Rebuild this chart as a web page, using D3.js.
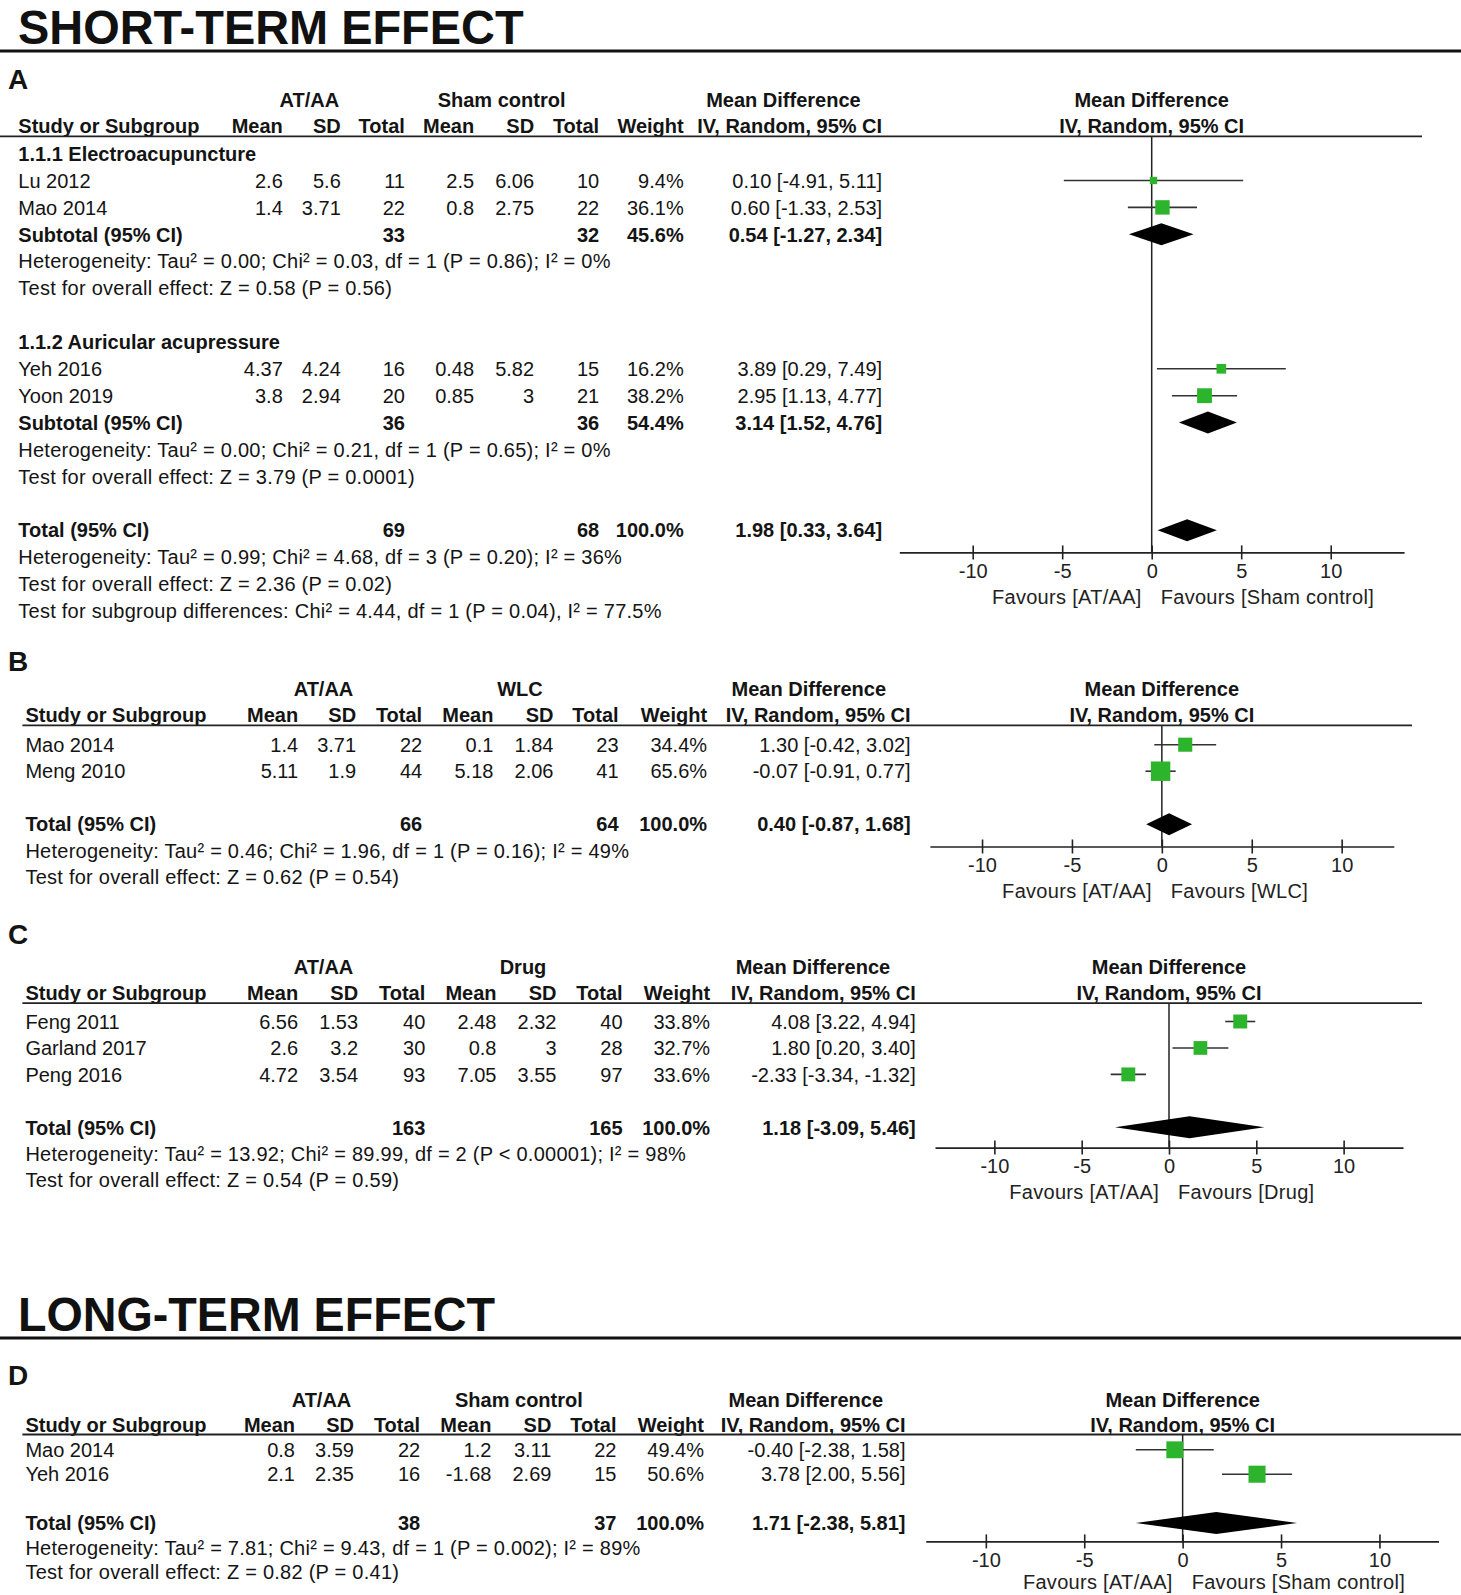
<!DOCTYPE html>
<html><head><meta charset="utf-8">
<script src="https://cdn.jsdelivr.net/npm/d3@7"></script>
<style>
body{margin:0;background:#fff;}
svg text{font-family:"Liberation Sans",Arial,Helvetica,sans-serif;}
</style></head><body>
<svg id="chart" width="1461" height="1595"></svg>
<script>
// ================= DATA =================
const sectionTitles = ["SHORT-TERM EFFECT", "LONG-TERM EFFECT"];
const colHeaders = ["Study or Subgroup","Mean","SD","Total","Mean","SD","Total","Weight","IV, Random, 95% CI"];
const expLabel = "AT/AA";
const tickValues = [-10,-5,0,5,10];

// ---- Panel A (AT/AA vs Sham control, short-term, with subgroups)
const A_groups = ["1.1.1 Electroacupuncture", "1.1.2 Auricular acupressure"];
const A_study = ["Lu 2012","Mao 2014","Yeh 2016","Yoon 2019"];
const A_group = [0,0,1,1];
const A_expMean = [2.6,1.4,4.37,3.8];
const A_expSD = [5.6,3.71,4.24,2.94];
const A_expN = [11,22,16,20];
const A_ctlMean = [2.5,0.8,0.48,0.85];
const A_ctlSD = [6.06,2.75,5.82,3];
const A_ctlN = [10,22,15,21];
const A_weight = [9.4,36.1,16.2,38.2];
const A_md = [0.10,0.60,3.89,2.95];
const A_lo = [-4.91,-1.33,0.29,1.13];
const A_hi = [5.11,2.53,7.49,4.77];
const A_subExpN = [33,36];
const A_subCtlN = [32,36];
const A_subWeight = [45.6,54.4];
const A_subMd = [0.54,3.14];
const A_subLo = [-1.27,1.52];
const A_subHi = [2.34,4.76];
const A_subHet = ["Heterogeneity: Tau\u00b2 = 0.00; Chi\u00b2 = 0.03, df = 1 (P = 0.86); I\u00b2 = 0%",
                  "Heterogeneity: Tau\u00b2 = 0.00; Chi\u00b2 = 0.21, df = 1 (P = 0.65); I\u00b2 = 0%"];
const A_subTest = ["Test for overall effect: Z = 0.58 (P = 0.56)",
                   "Test for overall effect: Z = 3.79 (P = 0.0001)"];
const A_totN = [69,68];
const A_totWeight = 100.0;
const A_totCI = [1.98,0.33,3.64];
const A_totHet = "Heterogeneity: Tau\u00b2 = 0.99; Chi\u00b2 = 4.68, df = 3 (P = 0.20); I\u00b2 = 36%";
const A_totTest = "Test for overall effect: Z = 2.36 (P = 0.02)";
const A_subDiff = "Test for subgroup differences: Chi\u00b2 = 4.44, df = 1 (P = 0.04), I\u00b2 = 77.5%";
const A_control = "Sham control";

// ---- Panel B (AT/AA vs WLC)
const B_study = ["Mao 2014","Meng 2010"];
const B_expMean = [1.4,5.11];
const B_expSD = [3.71,1.9];
const B_expN = [22,44];
const B_ctlMean = [0.1,5.18];
const B_ctlSD = [1.84,2.06];
const B_ctlN = [23,41];
const B_weight = [34.4,65.6];
const B_md = [1.30,-0.07];
const B_lo = [-0.42,-0.91];
const B_hi = [3.02,0.77];
const B_totN = [66,64];
const B_totWeight = 100.0;
const B_totCI = [0.40,-0.87,1.68];
const B_totHet = "Heterogeneity: Tau\u00b2 = 0.46; Chi\u00b2 = 1.96, df = 1 (P = 0.16); I\u00b2 = 49%";
const B_totTest = "Test for overall effect: Z = 0.62 (P = 0.54)";
const B_control = "WLC";

// ---- Panel C (AT/AA vs Drug)
const C_study = ["Feng 2011","Garland 2017","Peng 2016"];
const C_expMean = [6.56,2.6,4.72];
const C_expSD = [1.53,3.2,3.54];
const C_expN = [40,30,93];
const C_ctlMean = [2.48,0.8,7.05];
const C_ctlSD = [2.32,3,3.55];
const C_ctlN = [40,28,97];
const C_weight = [33.8,32.7,33.6];
const C_md = [4.08,1.80,-2.33];
const C_lo = [3.22,0.20,-3.34];
const C_hi = [4.94,3.40,-1.32];
const C_totN = [163,165];
const C_totWeight = 100.0;
const C_totCI = [1.18,-3.09,5.46];
const C_totHet = "Heterogeneity: Tau\u00b2 = 13.92; Chi\u00b2 = 89.99, df = 2 (P < 0.00001); I\u00b2 = 98%";
const C_totTest = "Test for overall effect: Z = 0.54 (P = 0.59)";
const C_control = "Drug";

// ---- Panel D (AT/AA vs Sham control, long-term)
const D_study = ["Mao 2014","Yeh 2016"];
const D_expMean = [0.8,2.1];
const D_expSD = [3.59,2.35];
const D_expN = [22,16];
const D_ctlMean = [1.2,-1.68];
const D_ctlSD = [3.11,2.69];
const D_ctlN = [22,15];
const D_weight = [49.4,50.6];
const D_md = [-0.40,3.78];
const D_lo = [-2.38,2.00];
const D_hi = [1.58,5.56];
const D_totN = [38,37];
const D_totWeight = 100.0;
const D_totCI = [1.71,-2.38,5.81];
const D_totHet = "Heterogeneity: Tau\u00b2 = 7.81; Chi\u00b2 = 9.43, df = 1 (P = 0.002); I\u00b2 = 89%";
const D_totTest = "Test for overall effect: Z = 0.82 (P = 0.41)";
const D_control = "Sham control";

// ================= LAYOUT =================
const LAYOUT = {
  A: {letter:"A", letterY:79.3, hdr1Y:99.7, hdr2Y:126.2, ruleY:136.3, rule:[0,1422], y0:153.6, step:26.9,
      cols:[18.3,282.8,340.8,404.9,474.1,534.1,599.2,683.7,882.1], grp:[309.3,501.6,783.4],
      axisY:552.4, favDy:44, xDomain:[-14.1,14.1], xRange:[899.3,1404.1]},
  B: {letter:"B", letterY:661.3, hdr1Y:688.8, hdr2Y:715.2, ruleY:725.4, rule:[22.4,1412], y0:744.7, step:26.5,
      cols:[25.4,298.1,356.1,422.2,493.4,553.5,618.6,707.1,910.6], grp:[323.5,519.9,808.8],
      axisY:846.5, favDy:44, xDomain:[-12.9,12.9], xRange:[929.9,1393.8]},
  C: {letter:"C", letterY:934, hdr1Y:966.5, hdr2Y:993, ruleY:1003.2, rule:[22.4,1422], y0:1021.5, step:26.45,
      cols:[25.4,298.1,358.1,425.3,496.5,556.5,622.6,710.1,915.7], grp:[323.5,523,812.9],
      axisY:1147.6, favDy:44, xDomain:[-13.4,13.4], xRange:[935,1403]},
  D: {letter:"D", letterY:1374.5, hdr1Y:1400, hdr2Y:1424.4, ruleY:1434.5, rule:[22.4,1461], y0:1449.8, step:24.4,
      cols:[25.4,295,354,420.2,491.4,551.4,616.5,704,905.5], grp:[321.5,518.9,805.8],
      axisY:1541.4, favDy:40.5, xDomain:[-13.05,13.0], xRange:[925.8,1438.5]}
};
const FS = 20;
const GREEN = "#2db42d";
const INK = "#141414";

// ================= BUILD =================
const svg = d3.select("#chart");
svg.append("rect").attr("width",1461).attr("height",1595).attr("fill","#fff");

function txt(g, x, y, s, o = {}) {
  const t = g.append("text").attr("x", x).attr("y", y).attr("dy", "0.36em")
    .attr("text-anchor", o.anchor || "start")
    .attr("font-weight", o.bold ? "bold" : "normal")
    .attr("font-size", o.size || FS).attr("fill", o.fill || INK).text(s);
  if (o.ls) t.attr("letter-spacing", o.ls);
  return t;
}
const f2 = v => v.toFixed(2);
const ci = (m, l, h) => `${f2(m)} [${f2(l)}, ${f2(h)}]`;
const pct = v => v.toFixed(1) + "%";

function studyRows(S, idxs) {
  return idxs.map(i => ({t:"study", name:S.study[i],
    vals:[S.expMean[i],S.expSD[i],S.expN[i],S.ctlMean[i],S.ctlSD[i],S.ctlN[i]].map(String),
    w:S.weight[i], md:S.md[i], lo:S.lo[i], hi:S.hi[i]}));
}

function panelRows(S) {
  const rows = [];
  if (S.groups) {
    S.groups.forEach((gname, gi) => {
      rows.push({t:"group", name:gname});
      rows.push(...studyRows(S, S.study.map((_, i) => i).filter(i => S.group[i] === gi)));
      rows.push({t:"sum", name:"Subtotal (95% CI)", nE:S.subExpN[gi], nC:S.subCtlN[gi], w:S.subWeight[gi],
                 md:S.subMd[gi], lo:S.subLo[gi], hi:S.subHi[gi]});
      rows.push({t:"note", name:S.subHet[gi]});
      rows.push({t:"note", name:S.subTest[gi]});
      rows.push({t:"blank"});
    });
  } else {
    rows.push(...studyRows(S, S.study.map((_, i) => i)));
    rows.push({t:"blank"});
  }
  rows.push({t:"sum", name:"Total (95% CI)", nE:S.totN[0], nC:S.totN[1], w:S.totWeight,
             md:S.totCI[0], lo:S.totCI[1], hi:S.totCI[2]});
  rows.push({t:"note", name:S.totHet});
  rows.push({t:"note", name:S.totTest});
  if (S.subDiff) rows.push({t:"note", name:S.subDiff});
  return rows;
}

function drawPanel(S, L) {
  const g = svg.append("g");
  const x = d3.scaleLinear().domain(L.xDomain).range(L.xRange);
  const rowY = d3.scaleLinear().domain([0, 1]).range([L.y0, L.y0 + L.step]);
  const box = d3.scaleSqrt().domain([0, 100]).range([0, 24]);

  txt(g, 8, L.letterY, L.letter, {bold:true, size:28});
  txt(g, L.grp[0], L.hdr1Y, expLabel, {bold:true, anchor:"middle"});
  txt(g, L.grp[1], L.hdr1Y, S.control, {bold:true, anchor:"middle"});
  txt(g, L.grp[2], L.hdr1Y, "Mean Difference", {bold:true, anchor:"middle"});
  colHeaders.forEach((h, i) => txt(g, L.cols[i], L.hdr2Y, h, {bold:true, anchor: i === 0 ? "start" : "end"}));
  txt(g, x(0), L.hdr1Y, "Mean Difference", {bold:true, anchor:"middle"});
  txt(g, x(0), L.hdr2Y, "IV, Random, 95% CI", {bold:true, anchor:"middle"});

  g.append("line").attr("x1", L.rule[0]).attr("x2", L.rule[1]).attr("y1", L.ruleY).attr("y2", L.ruleY)
    .attr("stroke", "#222").attr("stroke-width", 1.8);
  g.append("line").attr("x1", x(0)).attr("x2", x(0)).attr("y1", L.ruleY).attr("y2", L.axisY)
    .attr("stroke", "#222").attr("stroke-width", 1.5);

  const rows = panelRows(S);
  rows.forEach((r, i) => {
    const y = rowY(i);
    if (r.t === "group") {
      txt(g, L.cols[0], y, r.name, {bold:true});
    } else if (r.t === "note") {
      txt(g, L.cols[0], y, r.name, {ls:0.25});
    } else if (r.t === "study") {
      txt(g, L.cols[0], y, r.name);
      r.vals.forEach((v, k) => txt(g, L.cols[k + 1], y, v, {anchor:"end"}));
      txt(g, L.cols[7], y, pct(r.w), {anchor:"end"});
      txt(g, L.cols[8], y, ci(r.md, r.lo, r.hi), {anchor:"end"});
      g.append("line").attr("x1", x(r.lo)).attr("x2", x(r.hi)).attr("y1", y).attr("y2", y)
        .attr("stroke", "#333").attr("stroke-width", 1.6);
      const s = box(r.w);
      g.append("rect").attr("x", x(r.md) - s / 2).attr("y", y - s / 2).attr("width", s).attr("height", s)
        .attr("fill", GREEN);
    } else if (r.t === "sum") {
      txt(g, L.cols[0], y, r.name, {bold:true});
      txt(g, L.cols[3], y, String(r.nE), {bold:true, anchor:"end"});
      txt(g, L.cols[6], y, String(r.nC), {bold:true, anchor:"end"});
      txt(g, L.cols[7], y, pct(r.w), {bold:true, anchor:"end"});
      txt(g, L.cols[8], y, ci(r.md, r.lo, r.hi), {bold:true, anchor:"end"});
      const h = 11;
      g.append("path").attr("d", `M${x(r.lo)},${y}L${x(r.md)},${y - h}L${x(r.hi)},${y}L${x(r.md)},${y + h}Z`)
        .attr("fill", "#000");
    }
  });

  const axis = d3.axisBottom(x).tickValues(tickValues).tickSizeOuter(0).tickSizeInner(7)
    .tickFormat(d => String(d));
  const ag = g.append("g").attr("transform", `translate(0,${L.axisY})`).call(axis);
  ag.select(".domain").attr("stroke", "#222").attr("stroke-width", 1.6);
  ag.selectAll(".tick line").attr("y1", -7).attr("y2", 7).attr("stroke", "#222").attr("stroke-width", 1.6);
  ag.selectAll(".tick text").attr("y", 18.4).attr("dy", "0.36em").attr("font-size", FS)
    .attr("font-family", "'Liberation Sans',Arial,sans-serif").attr("fill", "#222");

  txt(g, x(0) - 10, L.axisY + L.favDy, "Favours [" + expLabel + "]", {anchor:"end", fill:"#222", ls:0.3});
  txt(g, x(0) + 9, L.axisY + L.favDy, "Favours [" + S.control + "]", {fill:"#222", ls:0.3});
}

// Section titles
[[43.5, 51, 505.6], [1331, 1338, 477]].forEach(([by, ry, w], i) => {
  svg.append("text").attr("x", 18).attr("y", by).attr("font-size", 48).attr("font-weight", "bold")
    .attr("fill", "#111").attr("textLength", w).attr("lengthAdjust", "spacingAndGlyphs").text(sectionTitles[i]);
  svg.append("line").attr("x1", 0).attr("x2", 1461).attr("y1", ry).attr("y2", ry)
    .attr("stroke", "#111").attr("stroke-width", 3);
});

const panels = {
  A: {groups:A_groups, group:A_group, study:A_study, expMean:A_expMean, expSD:A_expSD, expN:A_expN,
      ctlMean:A_ctlMean, ctlSD:A_ctlSD, ctlN:A_ctlN, weight:A_weight, md:A_md, lo:A_lo, hi:A_hi,
      subExpN:A_subExpN, subCtlN:A_subCtlN, subWeight:A_subWeight, subMd:A_subMd, subLo:A_subLo, subHi:A_subHi,
      subHet:A_subHet, subTest:A_subTest, totN:A_totN, totWeight:A_totWeight, totCI:A_totCI,
      totHet:A_totHet, totTest:A_totTest, subDiff:A_subDiff, control:A_control},
  B: {study:B_study, expMean:B_expMean, expSD:B_expSD, expN:B_expN, ctlMean:B_ctlMean, ctlSD:B_ctlSD, ctlN:B_ctlN,
      weight:B_weight, md:B_md, lo:B_lo, hi:B_hi, totN:B_totN, totWeight:B_totWeight, totCI:B_totCI,
      totHet:B_totHet, totTest:B_totTest, control:B_control},
  C: {study:C_study, expMean:C_expMean, expSD:C_expSD, expN:C_expN, ctlMean:C_ctlMean, ctlSD:C_ctlSD, ctlN:C_ctlN,
      weight:C_weight, md:C_md, lo:C_lo, hi:C_hi, totN:C_totN, totWeight:C_totWeight, totCI:C_totCI,
      totHet:C_totHet, totTest:C_totTest, control:C_control},
  D: {study:D_study, expMean:D_expMean, expSD:D_expSD, expN:D_expN, ctlMean:D_ctlMean, ctlSD:D_ctlSD, ctlN:D_ctlN,
      weight:D_weight, md:D_md, lo:D_lo, hi:D_hi, totN:D_totN, totWeight:D_totWeight, totCI:D_totCI,
      totHet:D_totHet, totTest:D_totTest, control:D_control}
};
Object.keys(panels).forEach(k => drawPanel(panels[k], LAYOUT[k]));
</script>
</body></html>
